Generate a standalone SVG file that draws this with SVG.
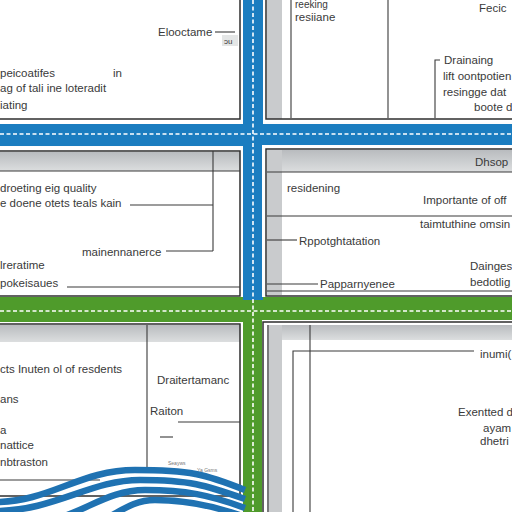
<svg xmlns="http://www.w3.org/2000/svg" width="512" height="512" viewBox="0 0 512 512">
<defs>
<linearGradient id="hdr" x1="0" y1="0" x2="0" y2="1">
<stop offset="0" stop-color="#b9bcbf"/>
<stop offset="1" stop-color="#dcdedf"/>
</linearGradient>
<style>
.t{font-family:"Liberation Sans",Arial,sans-serif;font-size:11.5px;fill:#3a3a3a}
.s{font-family:"Liberation Sans",Arial,sans-serif;font-size:5px;fill:#777}
.pw{fill:#fff}
.po{fill:none;stroke:#2e2e2e;stroke-width:1.5}
.ln{fill:none;stroke:#3a3a3a;stroke-width:1.1}
.strip{fill:#c9cbcd}
.dash{fill:none;stroke:#fff;stroke-width:1.6;stroke-dasharray:4 2.5}
.wave{fill:none;stroke:#1f72b2;stroke-width:6.5}
</style>
</defs>
<rect width="512" height="512" fill="#fdfdfd"/>
<g id="bands">
<rect x="0" y="124" width="512" height="22" fill="#1b7dc0"/>
<rect x="0" y="297" width="512" height="25" fill="#4f9b2b"/>
<rect x="243" y="0" width="20" height="300" fill="#1b7dc0"/>
<rect x="243" y="300" width="20" height="212" fill="#4f9b2b"/>
<line class="dash" x1="253" y1="0" x2="253" y2="512"/>
<line class="dash" x1="0" y1="134" x2="512" y2="134"/>
<line class="dash" x1="0" y1="311" x2="512" y2="311"/>
</g>
<g id="panel-top-left">
<rect class="pw" x="-5" y="-5" width="248" height="129"/>
<rect class="po" x="-5" y="-5" width="245" height="124"/>
<rect x="222" y="35" width="16" height="11" fill="#e4e6e6"/>
<text class="t" x="158" y="36">Eloоctame</text>
<text class="t" x="224" y="44" style="font-size:8px">ɔu</text>
<text class="t" x="0" y="77">peicoatifes</text>
<text class="t" x="113" y="77">in</text>
<text class="t" x="0" y="92">ag of tali ine loteradit</text>
<text class="t" x="0" y="109">iating</text>
</g>
<g id="panel-top-right">
<rect class="pw" x="263" y="-5" width="260" height="127"/>
<rect class="strip" x="267" y="-5" width="15" height="124"/>
<rect class="po" x="266" y="-5" width="260" height="124"/>
<line class="ln" x1="291" y1="0" x2="291" y2="118"/>
<line class="ln" x1="388" y1="0" x2="388" y2="118"/>
<text class="t" x="295" y="8" style="font-size:10px">reeking</text>
<text class="t" x="295" y="21">resiiane</text>
<text class="t" x="479" y="12">Fecic</text>
<text class="t" x="444" y="64">Drainaing</text>
<text class="t" x="443" y="80">lift oontpotien</text>
<text class="t" x="443" y="96">resingge dat</text>
<text class="t" x="474" y="111">boote d</text>
</g>
<g id="panel-mid-left">
<rect class="pw" x="-5" y="147" width="248" height="150"/>
<rect x="-5" y="152" width="245" height="19" fill="url(#hdr)"/>
<rect class="po" x="-5" y="151" width="245" height="145"/>
<line class="ln" x1="-5" y1="171" x2="240" y2="171"/>
<text class="t" x="0" y="192">droeting eig quality</text>
<text class="t" x="0" y="207">e doene otets teals kain</text>
<text class="t" x="82" y="256">mainennanerce</text>
<text class="t" x="0" y="269">lreratime</text>
<text class="t" x="0" y="287">pokeisaues</text>
</g>
<g id="panel-mid-right">
<rect class="pw" x="262" y="145" width="260" height="152"/>
<rect x="267" y="150" width="250" height="22" fill="url(#hdr)"/>
<rect class="strip" x="267" y="150" width="15" height="145"/>
<rect class="po" x="266" y="149" width="260" height="147"/>
<line class="ln" x1="267" y1="172" x2="512" y2="172"/>
<line class="ln" x1="267" y1="216" x2="512" y2="216"/>
<line class="ln" x1="267" y1="291" x2="512" y2="291"/>
<text class="t" x="475" y="166">Dhsop</text>
<text class="t" x="287" y="192">residening</text>
<text class="t" x="423" y="204">Importante of off</text>
<text class="t" x="420" y="228">taimtuthine omsin</text>
<text class="t" x="299" y="245">Rppotghtatation</text>
<text class="t" x="470" y="270">Dainges</text>
<text class="t" x="470" y="286">bedotlig</text>
<text class="t" x="320" y="288">Papparnyenee</text>
</g>
<g id="panel-bottom-left">
<rect class="pw" x="-5" y="322" width="248" height="195"/>
<rect x="-5" y="325" width="245" height="17" fill="url(#hdr)"/>
<rect class="po" x="-5" y="324" width="245" height="172"/>
<line class="ln" x1="147" y1="325" x2="147" y2="468"/>
<text class="t" x="0" y="373">cts Inuten ol of resdents</text>
<text class="t" x="0" y="403">ans</text>
<text class="t" x="0" y="434">a</text>
<text class="t" x="0" y="449">nattice</text>
<text class="t" x="0" y="466">nbtraston</text>
<text class="t" x="157" y="384">Draitertamanc</text>
<text class="t" x="150" y="415">Raiton</text>
<text class="s" x="168" y="465">Seayws</text>
<text class="s" x="197" y="472">Ya Gsms</text>
</g>
<g id="panel-bottom-right">
<rect class="pw" x="262" y="320" width="260" height="197"/>
<rect x="267" y="325" width="250" height="15" fill="url(#hdr)"/>
<rect class="strip" x="267" y="325" width="15" height="190"/>
<rect x="282" y="340" width="240" height="175" fill="#fff"/>
<rect class="po" x="263" y="322" width="260" height="200"/>
<line class="ln" x1="268" y1="325" x2="268" y2="512"/>
<line class="ln" x1="310" y1="325" x2="310" y2="512"/>
<text class="t" x="480" y="358">inumi(</text>
<text class="t" x="458" y="416">Exentted d</text>
<text class="t" x="483" y="432">ayam</text>
<text class="t" x="480" y="445">dhetri</text>
</g>
<g id="connectors">
<line class="ln" x1="215" y1="32" x2="235" y2="32"/>
<polyline class="ln" points="440,60 435,60 435,118"/>
<line class="ln" x1="213" y1="151" x2="213" y2="251"/>
<line class="ln" x1="130" y1="205" x2="213" y2="205"/>
<line class="ln" x1="166" y1="251" x2="213" y2="251"/>
<line class="ln" x1="67" y1="287" x2="240" y2="287"/>
<line class="ln" x1="267" y1="240" x2="297" y2="240"/>
<line class="ln" x1="267" y1="284" x2="318" y2="284"/>
<line class="ln" x1="178" y1="422" x2="240" y2="422"/>
<line class="ln" x1="160" y1="437" x2="173" y2="437"/>
<line class="ln" x1="-5" y1="480" x2="100" y2="480"/>
<polyline class="ln" points="474,351 293,351 293,512"/>
</g>
<g id="waves">
<path class="wave" d="M-5 502 C50 502 80 470 135 470 S205 474 245 490"/>
<path class="wave" d="M-5 511 C55 511 90 480 140 480 S205 485 245 499"/>
<path class="wave" d="M40 522 C80 517 105 490 145 490 S210 495 245 508"/>
<path class="wave" d="M80 528 C110 523 125 500 155 500 S215 506 245 517"/>
</g>
</svg>
